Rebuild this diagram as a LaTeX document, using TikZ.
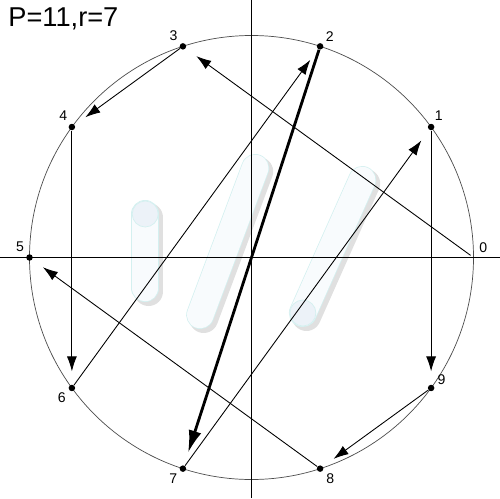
\documentclass[tikz,border=0pt]{standalone}
\usepackage{fontspec}
\setmainfont{Liberation Sans}
\usetikzlibrary{arrows.meta}
\definecolor{barfill}{RGB}{248,251,253}
\definecolor{barrim}{RGB}{212,240,240}
\definecolor{capfill}{RGB}{236,242,248}
\tikzset{pt/.style={circle,fill=black,inner sep=0pt,minimum size=1.3mm},
         lbl/.style={inner sep=1.5pt,font=\fontsize{8}{9}\selectfont},
         line/.style={-{Latex[length=3mm,width=2mm]},shorten >=2.6mm,line width=0.5pt},
         bold/.style={-{Latex[length=4.5mm,width=2.6mm]},shorten >=2.6mm,line width=1.6pt},
         shade/.style={line cap=round,line width=5.8mm,draw=black!12},
         rim/.style={line cap=round,line width=5.6mm,draw=barrim},
         bar/.style={line cap=round,line width=5.3mm,draw=barfill}
}
\begin{document}
\begin{tikzpicture}
  \useasboundingbox (-5.03,-4.81) rectangle (4.97,5.15);
  % faint bars in the background
  \foreach \a/\b in {{(-2.126,0.87)}/{(-2.126,-0.61)},{(0.074,1.79)}/{(-1.026,-1.15)},{(2.214,1.55)}/{(1.028,-1.11)}}{
    \draw[shade,shift={(0.07,-0.07)}] \a -- \b;
    \draw[rim] \a -- \b;
    \draw[bar] \a -- \b;
  }
  \draw[fill=capfill,draw=barrim] (-2.126,0.87) circle (0.26);
  \draw[fill=capfill,draw=barrim] (1.028,-1.11) circle (0.26);
  % circle and axes
  \draw[black!70,line width=0.4pt] (0,0) circle (4.44);
  \draw[line width=0.6pt] (-5.03,0) -- (4.97,0);
  \draw[line width=0.6pt] (0,-4.81) -- (0,5.15);
  \node[pt,fill=none,label={[lbl]40:0}] (p0) at (0:4.44) {};
  \foreach \k/\a in {1/77,2/38,3/135,4/117,5/137,6/203,7/222,8/-27,9/8}
    \node[pt,label={[lbl]\a:\k}] (p\k) at (36*\k:4.44) {};
  \node[anchor=base west,inner sep=0pt,font=\fontsize{15.5}{18}\selectfont] (title) at (-4.87,4.61) {P=11,r=7};
  % the cycle
  \draw[line] (p0) -- (p3);
  \draw[line] (p3) -- (p4);
  \draw[line] (p4) -- (p6);
  \draw[line] (p6) -- (p2);
  \draw[bold] (p2) -- (p7);
  \draw[line] (p7) -- (p1);
  \draw[line] (p1) -- (p9);
  \draw[line] (p9) -- (p8);
  \draw[line] (p8) -- (p5);
\end{tikzpicture}
\end{document}
